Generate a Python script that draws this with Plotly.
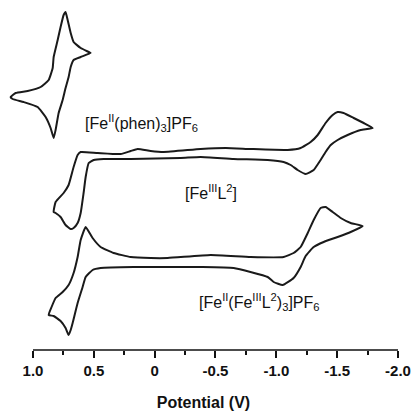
import plotly.graph_objects as go

# Potential (V) and current (arbitrary units, curves stacked vertically)
phen_E = [0.732, 0.715, 0.690, 0.666, 0.608, 0.542, 0.526, 0.608, 0.666, 0.690, 0.707, 0.732,
          0.756, 0.789, 0.814, 0.830, 0.855, 0.896, 0.962, 1.077, 1.167, 1.184, 1.142, 1.044,
          0.937, 0.871, 0.838, 0.830, 0.797, 0.773, 0.748, 0.732]
phen_I = [33.8, 33.0, 31.7, 30.8, 30.2, 29.8, 29.7, 29.3, 29.0, 28.3, 27.3, 26.2,
          25.0, 23.7, 22.0, 21.2, 22.2, 23.3, 24.3, 24.8, 25.1, 25.3, 25.7, 25.9,
          26.3, 27.0, 28.2, 29.3, 31.0, 32.3, 33.5, 33.8]

mono_E = [0.830, 0.814, 0.748, 0.707, 0.666, 0.633, 0.608, 0.468, 0.279, 0.197, 0.140, 0.033,
          -0.074, -0.378, -0.584, -0.789, -1.093, -1.200, -1.282, -1.340, -1.405, -1.463,
          -1.504, -1.553, -1.636, -1.718, -1.792, -1.693, -1.586, -1.504, -1.447, -1.405,
          -1.364, -1.307, -1.241, -1.175, -1.118, -1.060, -0.929, -0.649, -0.378, -0.214,
          0.197, 0.419, 0.501, 0.542, 0.567, 0.584, 0.608, 0.633, 0.666, 0.690, 0.732,
          0.773, 0.814, 0.830]
mono_I = [13.8, 14.8, 15.7, 16.5, 18.3, 19.5, 19.8, 19.7, 19.6, 19.9, 20.1, 19.9,
          19.8, 20.1, 20.2, 20.1, 20.0, 20.2, 20.8, 21.5, 22.7, 23.5,
          23.8, 23.7, 23.2, 22.7, 22.2, 22.0, 21.5, 21.0, 20.5, 19.8,
          19.0, 18.0, 17.6, 18.0, 18.5, 18.8, 19.0, 19.1, 19.3, 19.2,
          19.1, 19.1, 19.0, 18.7, 17.3, 15.7, 13.7, 12.7, 12.2, 12.1, 12.5,
          13.3, 13.7, 13.8]

tetra_E = [0.567, 0.510, 0.444, 0.337, 0.197, 0.033, -0.107, -0.460, -0.789, -1.060, -1.142,
           -1.200, -1.258, -1.307, -1.364, -1.405, -1.463, -1.529, -1.611, -1.710, -1.611,
           -1.504, -1.389, -1.307, -1.241, -1.200, -1.142, -1.052, -0.978, -0.929, -0.649,
           -0.378, 0.173, 0.444, 0.510, 0.567, 0.592, 0.633, 0.674, 0.690, 0.707, 0.732,
           0.773, 0.830, 0.871, 0.847, 0.814, 0.756, 0.707, 0.666, 0.633, 0.608, 0.567]
tetra_I = [12.3, 11.2, 10.3, 9.7, 9.3, 9.2, 9.2, 9.5, 9.3, 9.3, 9.7,
           10.3, 11.7, 13.0, 14.2, 14.3, 13.8, 13.2, 12.7, 12.4, 11.8,
           11.3, 10.8, 10.3, 9.4, 8.3, 7.2, 6.5, 6.8, 7.3, 8.2,
           8.3, 8.3, 8.2, 8.0, 7.3, 6.3, 4.7, 2.7, 2.0, 1.5, 2.2,
           2.9, 3.4, 3.5, 4.3, 5.2, 5.8, 6.5, 7.7, 9.3, 11.0, 12.3]

tick_vals = [1.0, 0.5, 0.0, -0.5, -1.0, -1.5, -2.0]
tick_text = ["1.0", "0.5", "0", "-0.5", "-1.0", "-1.5", "-2.0"]
minor_vals = [0.75, 0.25, -0.25, -0.75, -1.25, -1.75]

labels = ["[Fe<sup>II</sup>(phen)<sub>3</sub>]PF<sub>6</sub>",
          "[Fe<sup>III</sup>L<sup>2</sup>]",
          "[Fe<sup>II</sup>(Fe<sup>III</sup>L<sup>2</sup>)<sub>3</sub>]PF<sub>6</sub>"]
label_E = [0.592, -0.230, -0.348]
label_I = [22.7, 15.8, 4.8]

line_style = dict(color="#1a1a1a", width=2)
fig = go.Figure()
for E, I in [(phen_E, phen_I), (mono_E, mono_I), (tetra_E, tetra_I)]:
    fig.add_trace(go.Scatter(x=E, y=I, mode="lines", line=dict(**line_style, shape="spline", smoothing=0.4),
                             showlegend=False, hoverinfo="skip"))

for txt, x, y in zip(labels, label_E, label_I):
    fig.add_annotation(x=x, y=y, text=txt, showarrow=False, xanchor="left", yanchor="middle",
                       font=dict(family="Arial", size=16, color="#111"))

fig.add_shape(type="line", xref="x", yref="paper", x0=1.0, x1=-2.0, y0=0, y1=0,
              line=dict(color="#111", width=1.5))

fig.update_layout(
    width=413, height=411,
    margin=dict(l=9, r=15, t=0, b=61, autoexpand=False),
    paper_bgcolor="white", plot_bgcolor="white",
    xaxis=dict(range=[1.197, -2.0], showgrid=False, zeroline=False, showline=False, automargin=False,
               tickmode="array", tickvals=tick_vals, ticktext=tick_text,
               ticks="outside", ticklen=7, tickwidth=1.5, tickcolor="#111",
               tickfont=dict(family="Arial", size=15, color="#111", weight="bold"),
               minor=dict(tickvals=minor_vals, ticks="outside", ticklen=4, tickwidth=1.5, tickcolor="#111"),
               title=dict(text="Potential (V)", font=dict(family="Arial", size=16, color="#111", weight="bold"),
                          standoff=19)),
    yaxis=dict(range=[0, 35], visible=False, automargin=False),
)

# remove the default page margin so the figure fills the window exactly
fig.write_html("out.html", config={"displayModeBar": False},
               post_script="document.body.style.margin='0';document.body.style.overflow='hidden';")
